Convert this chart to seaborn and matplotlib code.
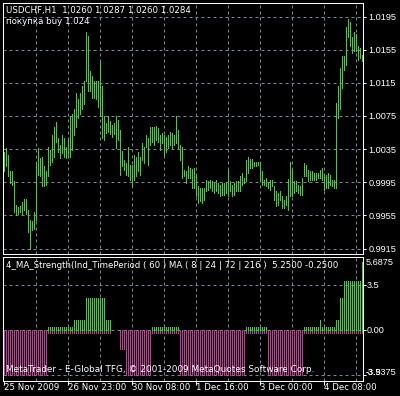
import numpy as np
import pandas as pd
import matplotlib
matplotlib.use("Agg")
import matplotlib.pyplot as plt
import matplotlib.transforms as mtransforms
import seaborn as sns

# USDCHF H1 bars, high / low
highs = [
    1.0032, 1.0036, 1.0028, 1.0008, 1.0008, 0.9996, 0.9967, 0.9965, 0.9966, 0.9971,
    0.9975, 0.9975, 0.9961, 0.9949, 0.9948, 0.9959, 1.0020, 1.0036, 1.0024, 1.0026,
    1.0014, 1.0008, 1.0038, 1.0034, 1.0052, 1.0062, 1.0068, 1.0048, 1.0040, 1.0052,
    1.0048, 1.0038, 1.0048, 1.0075, 1.0077, 1.0083, 1.0103, 1.0095, 1.0103, 1.0111,
    1.0117, 1.0176, 1.0172, 1.0129, 1.0123, 1.0117, 1.0117, 1.0117, 1.0141, 1.0111,
    1.0075, 1.0066, 1.0075, 1.0069, 1.0064, 1.0066, 1.0075, 1.0070, 1.0058, 1.0033,
    1.0022, 1.0018, 1.0038, 1.0016, 1.0016, 1.0028, 1.0026, 1.0032, 1.0026, 1.0042,
    1.0038, 1.0052, 1.0048, 1.0062, 1.0062, 1.0062, 1.0063, 1.0060, 1.0052, 1.0054,
    1.0052, 1.0050, 1.0052, 1.0056, 1.0054, 1.0052, 1.0075, 1.0058, 1.0040, 1.0038,
    1.0010, 1.0008, 1.0014, 1.0012, 1.0011, 1.0012, 1.0004, 0.9990, 0.9988, 0.9988,
    0.9988, 0.9998, 0.9996, 0.9998, 0.9996, 0.9994, 0.9998, 0.9994, 0.9992, 0.9994,
    0.9994, 0.9994, 1.0010, 0.9996, 0.9992, 0.9994, 0.9996, 0.9996, 1.0002, 1.0006,
    1.0000, 1.0022, 1.0026, 1.0023, 1.0023, 1.0020, 1.0020, 1.0020, 1.0018, 1.0008,
    0.9998, 1.0000, 0.9994, 0.9998, 0.9998, 0.9990, 0.9984, 0.9982, 0.9984, 0.9978,
    0.9974, 0.9978, 0.9999, 1.0020, 1.0010, 0.9996, 0.9996, 0.9992, 0.9990, 1.0000,
    1.0018, 1.0016, 1.0010, 1.0008, 1.0008, 1.0006, 1.0006, 1.0006, 1.0010, 1.0012,
    1.0004, 1.0004, 1.0006, 1.0004, 0.9998, 0.9998, 1.0091, 1.0111, 1.0133, 1.0147,
    1.0147, 1.0182, 1.0192, 1.0188, 1.0170, 1.0176, 1.0174, 1.0159, 1.0157, 1.0149,
]
lows = [
    1.0008, 1.0014, 1.0002, 0.9994, 0.9992, 0.9959, 0.9955, 0.9957, 0.9959, 0.9957,
    0.9961, 0.9957, 0.9935, 0.9915, 0.9937, 0.9939, 0.9949, 1.0004, 1.0002, 0.9990,
    0.9990, 0.9992, 1.0002, 1.0016, 1.0020, 1.0026, 1.0044, 1.0032, 1.0024, 1.0030,
    1.0026, 1.0024, 1.0026, 1.0026, 1.0034, 1.0052, 1.0062, 1.0073, 1.0077, 1.0083,
    1.0089, 1.0117, 1.0105, 1.0105, 1.0097, 1.0097, 1.0095, 1.0086, 1.0075, 1.0048,
    1.0046, 1.0054, 1.0056, 1.0053, 1.0050, 1.0053, 1.0036, 1.0046, 1.0004, 1.0014,
    1.0010, 1.0004, 1.0002, 0.9998, 0.9992, 0.9998, 1.0002, 1.0008, 1.0004, 1.0022,
    1.0018, 1.0038, 1.0016, 1.0040, 1.0044, 1.0040, 1.0046, 1.0044, 1.0034, 1.0042,
    1.0028, 1.0032, 1.0036, 1.0040, 1.0036, 1.0040, 1.0042, 1.0036, 1.0022, 1.0000,
    1.0002, 0.9994, 1.0000, 1.0000, 0.9988, 0.9988, 0.9978, 0.9970, 0.9972, 0.9970,
    0.9974, 0.9984, 0.9986, 0.9988, 0.9984, 0.9982, 0.9984, 0.9982, 0.9978, 0.9980,
    0.9980, 0.9982, 0.9978, 0.9984, 0.9978, 0.9980, 0.9984, 0.9984, 0.9984, 0.9992,
    0.9994, 0.9996, 1.0006, 1.0012, 1.0012, 1.0014, 1.0014, 1.0016, 0.9996, 0.9992,
    0.9992, 0.9990, 0.9988, 0.9986, 0.9990, 0.9974, 0.9966, 0.9968, 0.9974, 0.9964,
    0.9964, 0.9968, 0.9962, 0.9978, 0.9978, 0.9982, 0.9984, 0.9982, 0.9980, 0.9980,
    1.0002, 1.0002, 0.9996, 0.9998, 0.9998, 0.9998, 0.9998, 1.0000, 1.0000, 0.9998,
    0.9986, 0.9988, 0.9988, 0.9992, 0.9990, 0.9988, 0.9988, 1.0073, 1.0083, 1.0109,
    1.0131, 1.0137, 1.0170, 1.0159, 1.0151, 1.0153, 1.0153, 1.0143, 1.0145, 1.0141,
]

# 4_MA_Strength indicator buffers
strength_up = [
    0, 0, 0, 0, 0, 0, 0, 0, 0, 0, 0, 0, 0, 0, 0, 0, 0, 0, 0, 0,
    0, 0, 0.25, 0.25, 0.25, 0.25, 0.25, 0.25, 0.25, 0.25, 0.25, 0.25, 0.25, 0.25, 0.25, 0.75, 0.75, 0.75, 0.75, 0.75,
    0.75, 2.5, 2.5, 2.5, 2.5, 2.5, 2.5, 2.5, 2.5, 2.5, 2.5, 0.75, 0.75, 0.75, 0, 0, 0, 0, 0, 0,
    0, 0, 0, 0, 0, 0, 0, 0, 0, 0, 0, 0, 0, 0, 0.25, 0.25, 0.25, 0.25, 0.25, 0.25,
    0.25, 0.25, 0.25, 0.25, 0.25, 0.25, 0.25, 0.25, 0, 0, 0, 0, 0, 0, 0, 0, 0, 0, 0, 0,
    0, 0, 0, 0, 0, 0, 0, 0, 0, 0, 0, 0, 0, 0, 0, 0, 0, 0, 0, 0,
    0, 0.25, 0.25, 0.25, 0.25, 0.25, 0.25, 0.25, 0.25, 0.25, 0.25, 0.25, 0, 0, 0, 0, 0, 0, 0, 0,
    0, 0, 0, 0, 0, 0, 0, 0, 0, 0, 0.25, 0.25, 0.25, 0.25, 0.25, 0.25, 0.25, 0.25, 0.75, 0.25,
    0.25, 0.25, 0.25, 0.25, 0.25, 0.25, 0.75, 0.75, 2.5, 2.5, 3.75, 3.75, 3.75, 3.75, 3.75, 3.75, 3.75, 3.75, 3.75, 5.25,
]
strength_down = [
    -3.5, -3.5, -3.5, -3.5, -3.5, -3.5, -3.5, -3.5, -3.5, -3.5, -3.5, -3.5, -3.5, -3.5, -3.5, -3.5, -3.5, -3.5, -3.5, -3.5,
    -3.5, -3.5, -0.25, -0.25, -0.25, -0.25, -0.25, -0.25, -0.25, -0.25, -0.25, -0.25, -0.25, -0.25, -0.25, -0.25, -0.25, -0.25, -0.25, -0.25,
    -0.25, -0.25, -0.25, -0.25, -0.25, -0.25, -0.25, -0.25, -0.25, -0.25, -0.25, -0.25, -0.25, -0.25, 0, 0, 0, 0, -1.5, -1.5,
    -1.5, -3.5, -3.5, -3.5, -3.5, -3.5, -3.5, -3.5, -3.5, -3.5, -3.5, -3.5, -3.5, -3.5, -0.25, -0.25, -0.25, -0.25, -0.25, -0.25,
    -0.25, -0.25, -0.25, -0.25, -0.25, -0.25, -0.25, -0.25, -3.5, -3.5, -3.5, -3.5, -3.5, -3.5, -3.5, -3.5, -3.5, -3.5, -3.5, -3.5,
    -3.5, -3.5, -3.5, -3.5, -3.5, -3.5, -3.5, -3.5, -3.5, -3.5, -3.5, -3.5, -3.5, -3.5, -3.5, -3.5, -3.5, -3.5, -3.5, -3.5,
    -3.5, -0.25, -0.25, -0.25, -0.25, -0.25, -0.25, -0.25, -0.25, -0.25, -0.25, -0.25, -3.5, -3.5, -3.5, -3.5, -3.5, -3.5, -3.5, -3.5,
    -3.5, -3.5, -3.5, -3.5, -3.5, -3.5, -3.5, -3.5, -3.5, -3.5, -0.25, -0.25, -0.25, -0.25, -0.25, -0.25, -0.25, -0.25, -0.25, -0.25,
    -0.25, -0.25, -0.25, -0.25, -0.25, -0.25, -0.25, -0.25, -0.25, -0.25, -0.25, -0.25, -0.25, -0.25, -0.25, -0.25, -0.25, -0.25, -0.25, -0.25,
]

price_ticks = [1.0195, 1.0155, 1.0115, 1.0075, 1.0035, 0.9995, 0.9955, 0.9915]
strength_levels = [3.5, 0.0, -3.5]
time_labels = ["25 Nov 2009", "26 Nov 23:00", "30 Nov 08:00", "1 Dec 16:00", "3 Dec 00:00", "4 Dec 08:00"]
time_label_bars = [0, 32, 64, 96, 128, 160]
grid_bars = [16, 32, 48, 64, 80, 96, 112, 128, 144, 160, 176]

W, H = 400, 396
GREEN = "#32dc1e"
MAGENTA = "#c8389f"
GRID = "#778899"
PX = 72 / 100  # one pixel in points
FS = 6.2       # text size for labels and titles
NUM_FS = 6.6   # price scale numbers
TEXT_FONT = ["DejaVu Sans"]
NUM_FONT = ["Liberation Sans", "DejaVu Sans"]

sns.set_style("dark", {"axes.facecolor": "black", "figure.facecolor": "black",
                       "axes.edgecolor": "white", "text.color": "white",
                       "xtick.color": "white", "ytick.color": "white"})
plt.rcParams["font.family"] = NUM_FONT
plt.rcParams["font.size"] = NUM_FS
plt.rcParams["lines.solid_capstyle"] = "butt"

fig = plt.figure(figsize=(W / 100, H / 100), dpi=100)
fig.patch.set_facecolor("black")


def panel(left, top, right, bottom):
    return fig.add_axes([left / W, 1 - bottom / H, (right - left) / W, (bottom - top) / H])


def fig_text(x, y, s, family=TEXT_FONT, size=FS):
    fig.text(x / W, 1 - y / H, s, color="white", fontsize=size, family=family,
             ha="left", va="center")


ax = panel(2.5, 2.5, 362.5, 253.5)
ax2 = panel(2.5, 256.5, 362.5, 380.5)
bars = np.arange(len(highs))

for a in (ax, ax2):
    a.set_facecolor("black")
    for s in a.spines.values():
        s.set_color("white")
        s.set_linewidth(PX)
    for g in grid_bars:
        a.axvline(g, color=GRID, lw=PX, ls=(0, (3, 3)), zorder=0)

# price bars: one vertical low-high segment per hour, drawn as seaborn units
price_df = pd.DataFrame({
    "bar": np.repeat(bars, 2),
    "price": np.column_stack([lows, highs]).ravel(),
})
sns.lineplot(data=price_df, x="bar", y="price", units="bar", estimator=None, sort=False,
             color=GREEN, lw=PX, antialiased=False, ax=ax, zorder=2)
for p in price_ticks:
    ax.axhline(p, color=GRID, lw=PX, ls=(0, (3, 3)), zorder=0)
ax.set_xlim(-0.5, len(highs) - 0.5)
ax.set_ylim(0.990897, 1.02119)
ax.set_xlabel("")
ax.set_ylabel("")
ax.yaxis.tick_right()
ax.set_yticks(price_ticks, labels=[f"{p:.4f}" for p in price_ticks])
ax.tick_params(axis="y", colors="white", length=3 * PX, width=PX, pad=3 * PX, labelsize=NUM_FS)
ax.tick_params(axis="x", bottom=False, labelbottom=False)

# indicator histogram: segments from zero to each buffer value
zeros = np.zeros(len(bars))
ind_df = pd.DataFrame({
    "bar": np.concatenate([np.repeat(bars, 2), np.repeat(bars, 2)]),
    "value": np.concatenate([np.column_stack([zeros, strength_down]).ravel(),
                             np.column_stack([zeros, strength_up]).ravel()]),
    "buffer": ["down"] * (2 * len(bars)) + ["up"] * (2 * len(bars)),
})
ind_df["unit"] = ind_df["buffer"] + ind_df["bar"].astype(str)
sns.lineplot(data=ind_df, x="bar", y="value", hue="buffer", units="unit", estimator=None,
             sort=False, palette={"down": MAGENTA, "up": GREEN}, legend=False,
             lw=PX, antialiased=False, ax=ax2, zorder=2)
for lv in strength_levels:
    ax2.axhline(lv, color=GRID, lw=PX, ls=(0, (3, 3)), zorder=0)
ax2.set_xlim(-0.5, len(highs) - 0.5)
ax2.set_ylim(-3.9375, 5.6875)
ax2.set_xlabel("")
ax2.set_ylabel("")
ax2.yaxis.tick_right()
ax2.set_yticks(strength_levels, labels=["3.5", "0.00", ""])
ax2.tick_params(axis="y", colors="white", length=3 * PX, width=PX, pad=1 * PX, labelsize=NUM_FS)
ax2.set_xticks(time_label_bars, labels=[])
ax2.tick_params(axis="x", bottom=True, colors="white", length=4 * PX, width=PX, direction="out")

lab_tr = mtransforms.blended_transform_factory(ax2.transData, fig.transFigure)
for b, lab in zip(time_label_bars, time_labels):
    ax2.text(b, 1 - 388 / H, lab, transform=lab_tr, color="white", fontsize=FS,
             family=TEXT_FONT, ha="left", va="center", clip_on=False)

fig_text(6.5, 10.5, "USDCHF,H1  1.0260 1.0287 1.0260 1.0284")
fig_text(6.5, 21.5, "покупка buy 1.024")
fig_text(6.5, 265.5, "4_MA_Strength(Ind_TimePeriod ( 60 ) MA ( 8 | 24 | 72 | 216 )  5.2500 -0.2500")
fig_text(6.5, 369.5, "MetaTrader - E-Global TFG, © 2001-2009 MetaQuotes Software Corp.", size=6.4)
fig_text(366, 262.5, "5.6875", family=NUM_FONT, size=NUM_FS)
fig_text(366, 372.5, "-3.9375", family=NUM_FONT, size=NUM_FS)
fig_text(366, 372.5, "-3.5", family=NUM_FONT, size=NUM_FS)

fig.savefig("out.png", dpi=100, facecolor="black")
